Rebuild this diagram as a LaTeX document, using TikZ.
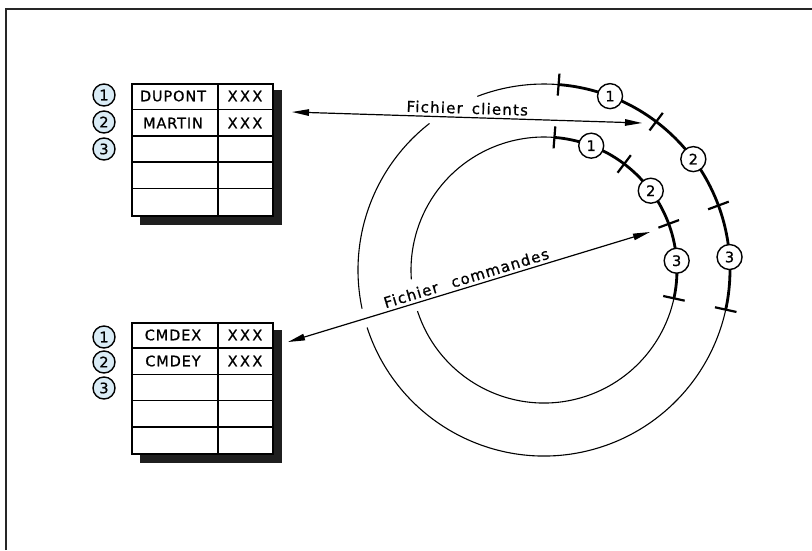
\documentclass[tikz,border=0pt]{standalone}
\usepackage{fontspec}
\setmainfont{DejaVu Sans}[LetterSpace=6, FakeBold=0.8]
\usetikzlibrary{arrows.meta,calc}
\definecolor{numfill}{RGB}{218,236,246}
\tikzset{
  frame/.style={line width=2.6pt, draw=black!85},
  tabbox/.style={draw, line width=1.8pt, fill=white, minimum width=141pt, minimum height=132pt, anchor=north west, inner sep=0pt},
  shadowbox/.style={fill=black!88},
  gridline/.style={line width=1.6pt},
  celltext/.style={font=\fontsize{14.5}{16}\selectfont, inner sep=0pt},
  rownum/.style={circle, draw, line width=1.4pt, fill=numfill, minimum size=22pt, inner sep=0pt, font=\fontsize{14.5}{15}\selectfont\addfontfeatures{LetterSpace=0}},
  arcnum/.style={circle, draw, line width=1.4pt, fill=white, minimum size=25pt, inner sep=0pt, font=\fontsize{14.5}{15}\selectfont\addfontfeatures{LetterSpace=0}},
  thinarc/.style={line width=1.1pt},
  thickarc/.style={line width=2.8pt},
  tickmark/.style={line width=2.2pt},
  flow/.style={line width=1.2pt, {Triangle[length=17pt,width=6.5pt]}-{Triangle[length=17pt,width=6.5pt]}},
  flowlabel/.style={font=\fontsize{15}{16}\selectfont\addfontfeatures{LetterSpace=8}, inner sep=3pt}
}
\begin{document}
\begin{tikzpicture}[x=1pt,y=-1pt]
\useasboundingbox (0,0) rectangle (812,550);
\fill[white] (0,0) rectangle (812,550);
% frame (open to the right and bottom)
\draw[frame] (6,550) -- (6,9) -- (812,9);

% ---------- table 1 ----------
\fill[shadowbox] (140,90) rectangle (282,225);
\node[tabbox] (t1) at (131,83) {};
\foreach \k in {1,2,3,4} \draw[gridline] ($(t1.north west)+(0,\k*26.4)$) -- ($(t1.north east)+(0,\k*26.4)$);
\draw[gridline] (218,83) -- (218,215);
\node[celltext] (d1) at (173,96) {DUPONT};
\node[celltext] (x1) at (245,96) {X\,X\,X};
\node[celltext] (d2) at (173,123) {MARTIN};
\node[celltext] (x2) at (245,123) {X\,X\,X};
\node[rownum] (a1) at (104,95) {1};
\node[rownum] (a2) at (104,122) {2};
\node[rownum] (a3) at (104,149) {3};

% ---------- table 2 ----------
\fill[shadowbox] (140,330) rectangle (282,463);
\node[tabbox, minimum height=131pt] (t2) at (131,322) {};
\foreach \k in {1,2,3,4} \draw[gridline] ($(t2.north west)+(0,\k*26.2)$) -- ($(t2.north east)+(0,\k*26.2)$);
\draw[gridline] (218,322) -- (218,453);
\node[celltext] (e1) at (173,335) {CMDEX};
\node[celltext] (y1) at (245,335) {X\,X\,X};
\node[celltext] (e2) at (173,361) {CMDEY};
\node[celltext] (y2) at (245,361) {X\,X\,X};
\node[rownum] (b1) at (104,337) {1};
\node[rownum] (b2) at (104,362) {2};
\node[rownum] (b3) at (104,388) {3};

% ---------- concentric files ----------
\begin{scope}[shift={(544,270)}, y=1pt]
  % outer circle (Fichier clients)
  \draw[thinarc] (85.5:186) arc[start angle=85.5, end angle=111, radius=186];
  \draw[thinarc] (128:186) arc[start angle=128, end angle=192, radius=186];
  \draw[thinarc] (198:186) arc[start angle=198, end angle=347.7, radius=186];
  \draw[thickarc] (85.5:186) arc[start angle=85.5, end angle=-12.3, radius=186];
  \foreach \a in {85.5,52.9,20.3,-12.3} \draw[tickmark] (\a:175) -- (\a:197);
  \node[arcnum] (o1) at (69.2:186) {1};
  \node[arcnum] (o2) at (36.6:186) {2};
  \node[arcnum] (o3) at (4:186) {3};
  % inner circle (Fichier commandes)
  \draw[thinarc] (85.5:133) arc[start angle=85.5, end angle=184, radius=133];
  \draw[thinarc] (198:133) arc[start angle=198, end angle=347.7, radius=133];
  \draw[thickarc] (85.5:133) arc[start angle=85.5, end angle=-12.3, radius=133];
  \foreach \a in {85.5,52.9,20.3,-12.3} \draw[tickmark] (\a:122) -- (\a:144);
  \node[arcnum] (i1) at (69.2:133) {1};
  \node[arcnum] (i2) at (36.6:133) {2};
  \node[arcnum] (i3) at (4:133) {3};
\end{scope}

% ---------- connectors ----------
\coordinate (cl) at (292,112);
\coordinate (cr) at (642,123);
\coordinate (ml) at (288,342);
\coordinate (mr) at (650,232);
\draw[flow] (cl) -- node[flowlabel, above, sloped, pos=0.5] {Fichier\hspace{9pt}clients} (cr);
\draw[flow] (ml) -- node[flowlabel, above, sloped, pos=0.5] {Fichier\hspace{14pt}commandes} (mr);
\end{tikzpicture}
\end{document}
